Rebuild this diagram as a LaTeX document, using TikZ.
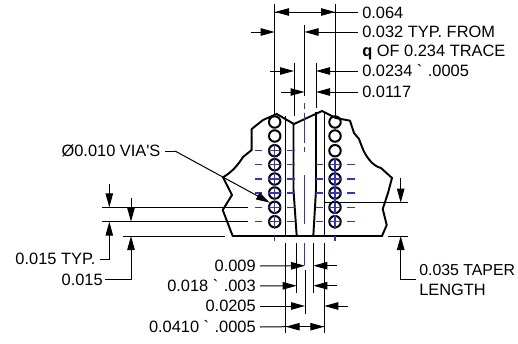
\documentclass[tikz,border=0pt]{standalone}
\usepackage{fontspec}
\setmainfont{Liberation Sans}[Ligatures=TeXOff]
\usetikzlibrary{arrows.meta}
\definecolor{cl}{RGB}{50,50,205}
\tikzset{
 x=0.75pt,y=-0.75pt,
 dim/.style={line width=0.75pt,black},
 tip/.style={dim,-{Triangle[length=10.5pt,width=5.6pt]}},
 thick outline/.style={line width=1.45pt,black,line join=miter},
 via/.style={circle,draw=black,line width=1.5pt,minimum size=8.6pt,inner sep=0pt},
 blue line/.style={line width=0.8pt,cl},
 lbl/.style={inner sep=0pt,font=\fontsize{12.3pt}{14pt}\selectfont},
 lr/.style={lbl,anchor=west},
 ll/.style={lbl,anchor=east},
}
\begin{document}
\begin{tikzpicture}
\useasboundingbox (0,0) rectangle (518,343);
% outline
\draw[thick outline] (276.7,114) -- (294,124) -- (322,111) -- (335.7,118) -- (350,120.7) -- (354,133) -- (359,139) -- (362,147)
  .. controls (365,155) and (372,166) .. (381,168) -- (392,178) -- (388,193) -- (382.7,209) -- (386.7,225) -- (382,236)
  -- (232.7,236) -- (222.7,210) -- (232,195) -- (223,177.3)
  .. controls (232,172) and (238,165) .. (243,157) -- (251.7,150) -- (251.7,129) -- (263,120) -- cycle;
% inner traces
\draw[thick outline] (285.5,116) -- (285.5,236);
\draw[thick outline] (324.5,113) -- (324.5,236);
\draw[thick outline] (293.5,124) -- (293.5,190) -- (296.7,236);
\draw[thick outline] (316,112) -- (316,190) -- (313.3,236);
% blue centre lines
\draw[blue line] (304.5,103) -- (304.5,109);
\draw[blue line] (304.5,113) -- (304.5,143);
\draw[blue line] (304.5,147) -- (304.5,152);
\draw[blue line] (304.5,175) -- (304.5,224);
\draw[blue line] (304.5,243) -- (304.5,265);
% vias
\foreach \yy [count=\i] in {122,136,150.7,164.7,179,193,207.3,221.7}{
  \node[via] (vl\i) at (274.7,\yy) {};
  \node[via] (vr\i) at (335,\yy) {};
}
\foreach \yy in {150.7,164.7,179,193,207.3,221.7}{
  \draw[blue line] (255,\yy) -- (262,\yy) (268,\yy) -- (281,\yy) (287,\yy) -- (295,\yy);
  \draw[blue line] (274.7,\yy-7) -- (274.7,\yy+7);
}
\foreach \yy in {164.7,179,193,207.3,221.7}{
  \draw[blue line] (316,\yy) -- (323,\yy) (329,\yy) -- (342,\yy) (347,\yy) -- (355,\yy);
  \draw[blue line] (335,\yy-7) -- (335,\yy+7);
}
\draw[blue line] (274.7,236) -- (274.7,241) (335,236) -- (335,241);
% extension lines top
\draw[dim] (274.7,4) -- (274.7,116);
\draw[dim] (335.3,4) -- (335.3,118);
\draw[dim] (304.5,25) -- (304.5,96);
\draw[dim] (294,63) -- (294,116);
\draw[dim] (316,63) -- (316,108);
% labels right top
\node[lr] (a) at (362,12.5) {0.064};
\node[lr] (b) at (362,32) {0.032 TYP. FROM};
\node[lr] at (362,52) {\textbf{q} OF 0.234 TRACE};
\node[lr] (c) at (362,71) {0.0234 `\,\,.0005};
\node[lr] (d) at (362,92) {0.0117};
\coordinate (a1) at (275,12); \coordinate (a2) at (335,12);
\draw[tip] (a1) -- (a2);
\draw[tip] (a2) -- (a1);
\draw[dim] (a2) -- ([xshift=-3pt]a.west |- a2);
\draw[tip] (251,32) -- (274.7,32);
\draw[tip] ([xshift=-3pt]b.west) -- (304.5,32);
\draw[tip] (270,71) -- (294,71);
\draw[tip] ([xshift=-3pt]c.west) -- (316,71);
\draw[tip] (281,92) -- (304.5,92);
\draw[tip] ([xshift=-3pt]d.west) -- (316,92);
% VIA leader
\node[ll] (v) at (160.7,151) {Ø0.010 VIA'S};
\coordinate (vk) at (175,151);
\draw[dim] ([xshift=3pt]v.east) -- (vk);
\draw[tip] (vk) -- (270,202.7);
% left dims
\draw[dim] (102,207.3) -- (248,207.3);
\draw[dim] (102,221.7) -- (248,221.7);
\draw[dim] (123,236) -- (225,236);
\node[ll] (e) at (95.7,259.3) {0.015 TYP.};
\node[ll] (f) at (103,279.5) {0.015};
\coordinate (ek) at (109.3,259.3);
\coordinate (fk) at (131,279.5);
\draw[tip] (109.3,184) -- (109.3,207.3);
\draw[tip] ([xshift=3pt]e.east) -- (ek) -- (109.3,221.7);
\draw[tip] (131,198) -- (131,221.7);
\draw[tip] ([xshift=1.5pt]f.east) -- (fk) -- (131,236);
% right dims
\draw[dim] (325,202.7) -- (408,202.7);
\draw[dim] (388,236) -- (408,236);
\node[lr,font=\fontsize{11.9pt}{14pt}\selectfont] (g) at (419,270) {0.035 TAPER};
\node[lr] at (419,289.5) {LENGTH};
\coordinate (gk) at (416,279.3);
\draw[tip] (400.7,178) -- (400.7,202.7);
\draw[tip] (gk) -- (400.7,279.3) -- (400.7,236);
% bottom dims
\draw[dim] (285.7,243) -- (285.7,333);
\draw[dim] (296.7,243) -- (296.7,293);
\draw[dim] (313.3,243) -- (313.3,293);
\draw[dim] (324.3,243) -- (324.3,333);
\draw[dim] (305,270) -- (305,314);
\node[ll] (h) at (256,266) {0.009};
\node[ll] (i) at (256,286) {0.018 `\,\,.003};
\node[ll] (j) at (256,306) {0.0205};
\node[ll] (k) at (256,327) {0.0410 `\,\,.0005};
\draw[tip] ([xshift=3pt]h.east) -- (305,265.7);
\draw[tip] (336.7,265.7) -- (313.3,265.7);
\draw[tip] ([xshift=3pt]i.east) -- (296.7,285.7);
\draw[tip] (336.7,285.7) -- (313.3,285.7);
\draw[tip] ([xshift=3pt]j.east) -- (305,306);
\draw[tip] (348,306) -- (324.3,306);
\draw[dim] ([xshift=3pt]k.east) -- (285.7,326.7);
\draw[tip] (324.3,326.7) -- (285.7,326.7);
\draw[tip] (285.7,326.7) -- (324.3,326.7);
\end{tikzpicture}
\end{document}
